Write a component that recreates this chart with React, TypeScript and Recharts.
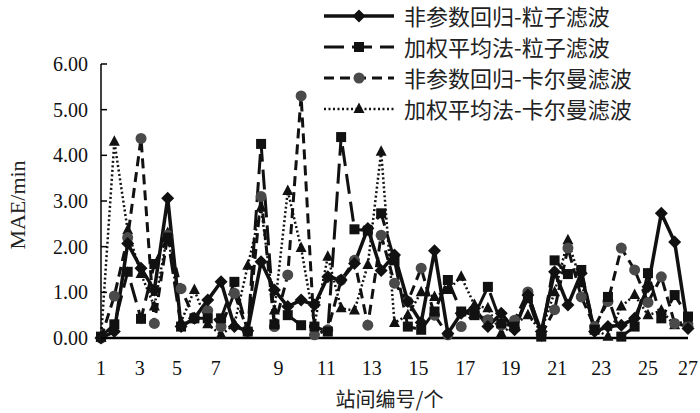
import { LineChart, Line, XAxis, YAxis, Legend } from 'recharts';

// station index along the x axis (45 samples)
const npPf = [0, 0.14, 2.07, 1.53, 1.05, 3.06, 0.25, 0.43, 0.83, 1.23, 0.25, 0.16, 1.67, 1.05, 0.69, 0.83, 0.72, 1.34, 1.27, 1.63, 2.4, 1.48, 1.82, 0.8, 0.34, 1.91, 0.1, 0.54, 0.65, 0.25, 0.54, 0.18, 0.94, 0.14, 1.45, 0.72, 1.42, 0.14, 0.25, 0.28, 0.43, 1.12, 2.73, 2.1, 0.21];
const waPf = [0.03, 0.3, 1.45, 0.42, 1.62, 2.2, 0.25, 0.43, 0.43, 0.43, 1.23, 0.14, 4.25, 0.3, 0.5, 0.28, 0.25, 0.14, 4.4, 2.38, 2.35, 2.73, 1.7, 0.25, 0.18, 0.58, 1.27, 0.58, 0.5, 1.12, 0.32, 0.25, 0.87, 0.03, 1.7, 1.4, 1.49, 0.18, 0.9, 0.03, 0.25, 1.42, 0.43, 0.94, 0.47];
const npKf = [0, 0.92, 2.2, 4.37, 0.32, 2.25, 1.08, 0.43, 0.6, 0.25, 0.98, 0.14, 3.1, 0.25, 1.38, 5.3, 0.07, 0.18, 1.27, 1.7, 0.28, 2.25, 1.2, 0.8, 1.53, 0.5, 0.07, 0.25, 0.54, 0.4, 0.28, 0.39, 1.01, 0.07, 0.62, 1.97, 0.9, 0.25, 0.8, 1.97, 1.49, 0.78, 1.34, 0.32, 0.25];
const waKf = [0, 4.3, 2.36, 1.4, 0.69, 2.3, 0.35, 1.05, 0.3, 0.07, 0.3, 1.58, 2.85, 0.6, 3.22, 1.97, 0.3, 1.78, 0.65, 0.6, 1.6, 4.08, 0.33, 0.5, 1.0, 0.9, 1.05, 1.34, 0.72, 0.65, 0.1, 0.3, 0.5, 0.15, 1.0, 2.14, 1.2, 0.2, 0.03, 0.69, 0.94, 0.5, 0.6, 0.28, 0.4];

const xTickPos = [0, 2.9, 5.7, 8.6, 13.3, 16.9, 20.3, 23.8, 27.3, 30.7, 34.2, 37.5, 41, 44];
const xTickLabels = ['1', '3', '5', '7', '9', '11', '13', '15', '17', '19', '21', '23', '25', '27'];
const yTicks = [0, 1, 2, 3, 4, 5, 6];

const seriesNames = ['非参数回归-粒子滤波', '加权平均法-粒子滤波', '非参数回归-卡尔曼滤波', '加权平均法-卡尔曼滤波'];

const data = npPf.map((v, i) => ({ idx: i, npPf: v, waPf: waPf[i], npKf: npKf[i], waKf: waKf[i] }));

const SERIF = '"Liberation Serif", "Times New Roman", serif';
const CJK = '"Noto Sans CJK SC", sans-serif';

const Diamond = ({ cx, cy }: any) => (
  <polygon points={`${cx},${cy - 6.5} ${cx + 6.5},${cy} ${cx},${cy + 6.5} ${cx - 6.5},${cy}`} fill="#111" />
);
const Square = ({ cx, cy }: any) => <rect x={cx - 5} y={cy - 5} width={10} height={10} fill="#111" />;
const Dot = ({ cx, cy }: any) => <circle cx={cx} cy={cy} r={5.5} fill="#4a4a4a" />;
const Tri = ({ cx, cy }: any) => (
  <polygon points={`${cx},${cy - 6.5} ${cx + 5.5},${cy + 4} ${cx - 5.5},${cy + 4}`} fill="#111" />
);

const styles = [
  { key: 'npPf', width: 3.5, dash: undefined, Marker: Diamond },
  { key: 'waPf', width: 3, dash: '20 8', Marker: Square },
  { key: 'npKf', width: 3, dash: '10 6', Marker: Dot },
  { key: 'waKf', width: 2.5, dash: '2 2.5', Marker: Tri },
];

const YTick = ({ x, y, payload }: any) => (
  <g>
    <line x1={x + 13} x2={x + 19} y1={y} y2={y} stroke="#000" strokeWidth={1.5} />
    <text x={x} y={y} dy="0.35em" textAnchor="end" fontFamily={SERIF} fontSize={20} fill="#111">
      {Number(payload.value).toFixed(2)}
    </text>
  </g>
);

const CustomLegend = () => (
  <div style={{ fontFamily: CJK, fontSize: 22, color: '#222', lineHeight: '31px' }}>
    {styles.map((s, i) => (
      <div key={s.key} style={{ display: 'flex', alignItems: 'center', height: 31 }}>
        <svg width={76} height={20} style={{ marginRight: 6 }}>
          <line x1={2} x2={72} y1={10} y2={10} stroke="#111" strokeWidth={s.width} strokeDasharray={s.dash} />
          <s.Marker cx={37} cy={10} />
        </svg>
        <span>{seriesNames[i]}</span>
      </div>
    ))}
  </div>
);

export default function App() {
  return (
    <div style={{ position: 'absolute', left: 0, top: 0, background: '#fff' }}>
      <LineChart width={700} height={413} data={data} margin={{ top: 64, right: 12, bottom: 0, left: 0 }}>
        <XAxis
          dataKey="idx"
          type="number"
          domain={[0, 44]}
          ticks={xTickPos}
          interval={0}
          tickFormatter={(v: number) => xTickLabels[xTickPos.indexOf(v)] ?? ''}
          tickLine={false}
          tickSize={0}
          tickMargin={23}
          height={75}
          axisLine={{ stroke: '#000', strokeWidth: 2.5 }}
          tick={{ fontFamily: SERIF, fontSize: 20, fill: '#111' }}
          label={{
            content: ({ viewBox }: any) => (
              <text x={viewBox.x + viewBox.width / 2 - 5} y={viewBox.y + 64} textAnchor="middle" dominantBaseline="middle" fontFamily={CJK} fontSize={20} fill="#222">
                站间编号/个
              </text>
            ),
          }}
        />
        <YAxis
          type="number"
          domain={[0, 6]}
          ticks={yTicks}
          width={101}
          tickLine={false}
          tickSize={0}
          tickMargin={13}
          axisLine={{ stroke: '#000', strokeWidth: 1.5 }}
          tick={<YTick />}
          label={{
            content: ({ viewBox }: any) => (
              <text
                transform={`translate(${viewBox.x + 20},${viewBox.y + viewBox.height / 2 + 4}) rotate(-90)`}
                textAnchor="middle"
                dominantBaseline="middle"
                fontFamily={SERIF}
                fontSize={22}
                fill="#222"
              >
                MAE/min
              </text>
            ),
          }}
        />
        <Legend
          layout="horizontal"
          verticalAlign="middle"
          align="center"
          content={<CustomLegend />}
          wrapperStyle={{ top: 0, left: 322, width: 'auto' }}
        />
        {[...styles].reverse().map((s) => (
          <Line
            key={s.key}
            dataKey={s.key}
            type="linear"
            stroke="#111"
            strokeWidth={s.width}
            strokeDasharray={s.dash}
            isAnimationActive={false}
            dot={(p: any) => <s.Marker key={`${s.key}-${p.index}`} cx={p.cx} cy={p.cy} />}
            activeDot={false}
          />
        ))}
      </LineChart>
    </div>
  );
}
